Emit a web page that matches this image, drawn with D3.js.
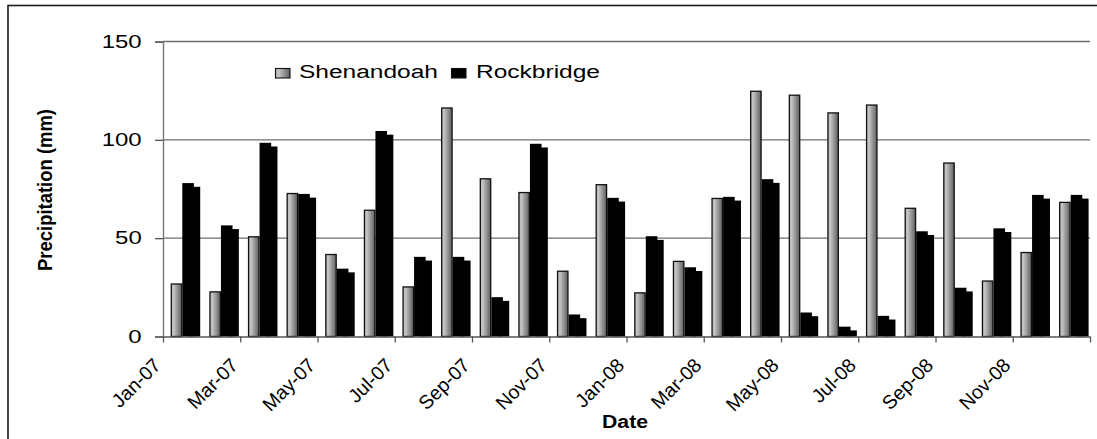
<!DOCTYPE html>
<html>
<head>
<meta charset="utf-8">
<script src="https://cdn.jsdelivr.net/npm/d3@7"></script>
<style>
  html, body { margin: 0; padding: 0; background: #fff; }
  svg { display: block; font-family: "Liberation Sans", Arial, sans-serif; }
</style>
</head>
<body>
<svg id="chart" width="1097" height="439"></svg>
<script>
// Monthly precipitation, Jan 2007 – Dec 2008
const months = ["Jan-07","Feb-07","Mar-07","Apr-07","May-07","Jun-07","Jul-07","Aug-07","Sep-07","Oct-07","Nov-07","Dec-07",
                "Jan-08","Feb-08","Mar-08","Apr-08","May-08","Jun-08","Jul-08","Aug-08","Sep-08","Oct-08","Nov-08","Dec-08"];
const shenandoah = [27, 23, 51, 73, 42, 64.5, 25.5, 116.5, 80.5, 73.5, 33.5, 77.5,
                    22.5, 38.5, 70.5, 125, 123, 114, 118, 65.5, 88.5, 28.5, 43, 68.5];
const rockbridge = [78, 56.5, 98.5, 72.5, 34.5, 104.5, 40.5, 40.5, 20, 98, 11.2, 70.5,
                    51, 35.2, 71, 80, 12.2, 5, 10.5, 53.5, 24.8, 55, 72, 72];
const seriesNames = ["Shenandoah", "Rockbridge"];
const yTicks = [0, 50, 100, 150];
const tickLabels = ["Jan-07","Mar-07","May-07","Jul-07","Sep-07","Nov-07","Jan-08","Mar-08","May-08","Jul-08","Sep-08","Nov-08",""];

const svg = d3.select("#chart");
const plotLeft = 163, plotRight = 1090, plotTop = 41.5, plotBottom = 336.5;
const stretch = 1.37;

// outer chart frame
svg.append("rect")
  .attr("x", 8).attr("y", 5.5).attr("width", 1200).attr("height", 600)
  .attr("fill", "none").attr("stroke", "#1a1a1a").attr("stroke-width", 1.6);

const defs = svg.append("defs");
const grad = defs.append("linearGradient").attr("id", "greyFill")
  .attr("x1", "0%").attr("x2", "100%").attr("y1", "0%").attr("y2", "0%");
grad.append("stop").attr("offset", "0%").attr("stop-color", "#b4b4b4");
grad.append("stop").attr("offset", "22%").attr("stop-color", "#c6c6c6");
grad.append("stop").attr("offset", "100%").attr("stop-color", "#5e5e5e");

const y = d3.scaleLinear().domain([0, 150]).range([plotBottom, plotTop]);
const x = d3.scaleBand().domain(months).range([plotLeft, plotRight]).padding(0);
const xs = d3.scaleBand().domain(seriesNames).range([0, x.bandwidth()])
  .paddingInner(0).paddingOuter(0.665);
const xTick = d3.scaleLinear().domain([0, months.length]).range([plotLeft, plotRight]);

// horizontal gridlines
svg.append("g").selectAll("line")
  .data(yTicks.filter(d => d > 0))
  .join("line")
  .attr("x1", plotLeft).attr("x2", plotRight)
  .attr("y1", d => y(d)).attr("y2", d => y(d))
  .attr("stroke", "#6e6e6e").attr("stroke-width", 1.4);

const bw = xs.bandwidth();
const rows = months.map((m, i) => ({ m, s: shenandoah[i], r: rockbridge[i] }));

// Rockbridge: solid black bars with an offset shadow
const rb = svg.append("g");
rb.selectAll("rect.shadow").data(rows).join("rect")
  .attr("class", "shadow")
  .attr("x", d => x(d.m) + xs("Rockbridge") + 6.3)
  .attr("y", d => y(d.r) + 3.7)
  .attr("width", bw)
  .attr("height", d => Math.max(0, plotBottom - y(d.r) - 3.7))
  .attr("fill", "#000");
rb.selectAll("rect.bar").data(rows).join("rect")
  .attr("class", "bar")
  .attr("x", d => x(d.m) + xs("Rockbridge"))
  .attr("y", d => y(d.r))
  .attr("width", bw)
  .attr("height", d => plotBottom - y(d.r))
  .attr("fill", "#000");

// Shenandoah: grey gradient bars with black outline
svg.append("g").selectAll("rect").data(rows).join("rect")
  .attr("x", d => x(d.m) + xs("Shenandoah") + 0.6)
  .attr("y", d => y(d.s) + 0.6)
  .attr("width", bw - 1.2)
  .attr("height", d => plotBottom - y(d.s) - 0.6)
  .attr("fill", "url(#greyFill)")
  .attr("stroke", "#111").attr("stroke-width", 1.3);

// y axis
const yAxis = svg.append("g").attr("transform", `translate(${plotLeft},0)`)
  .call(d3.axisLeft(y).tickValues(yTicks).tickSize(8).tickPadding(0).tickFormat(d3.format("d")));
yAxis.select(".domain").attr("stroke", "#777").attr("stroke-width", 1.4);
yAxis.selectAll(".tick line").attr("stroke", "#555").attr("stroke-width", 1.3);
yAxis.selectAll(".tick text")
  .attr("x", -21.3 / stretch).attr("dy", "0.32em")
  .attr("transform", `scale(${stretch},1)`)
  .attr("font-size", "17.5px").attr("fill", "#000")
  .attr("font-family", "Liberation Sans, Arial, sans-serif");

// x axis (ticks at month boundaries, every second month)
const xAxis = svg.append("g").attr("transform", `translate(0,${plotBottom})`)
  .call(d3.axisBottom(xTick)
    .tickValues(d3.range(0, months.length + 1, 2))
    .tickSize(6).tickSizeOuter(0)
    .tickFormat((d, i) => tickLabels[i]));
xAxis.select(".domain").attr("stroke", "#555").attr("stroke-width", 1.4);
xAxis.selectAll(".tick line").attr("stroke", "#555").attr("stroke-width", 1.3);
xAxis.selectAll(".tick text")
  .attr("x", 0).attr("y", 0).attr("dy", 0)
  .attr("text-anchor", "end")
  .attr("transform", "translate(-1.5,30) rotate(-45)")
  .attr("font-size", "19.5px").attr("fill", "#000")
  .attr("font-family", "Liberation Sans, Arial, sans-serif");

// axis titles
svg.append("text")
  .attr("x", 625).attr("y", 428)
  .attr("text-anchor", "middle")
  .attr("font-size", "18px").attr("font-weight", "bold")
  .attr("textLength", 46).attr("lengthAdjust", "spacingAndGlyphs")
  .text("Date");

svg.append("g").attr("transform", "translate(52,190) rotate(-90) scale(1,1.25)")
  .append("text")
  .attr("text-anchor", "middle")
  .attr("font-size", "16px").attr("font-weight", "bold")
  .attr("textLength", 162).attr("lengthAdjust", "spacingAndGlyphs")
  .text("Precipitation (mm)");

// legend
const legend = svg.append("g");
const legendItems = [
  { name: "Shenandoah", fill: "url(#greyFill)", sx: 275, tx: 299, w: 139 },
  { name: "Rockbridge", fill: "#000", sx: 451, tx: 476, w: 124 }
];
legendItems.forEach(it => {
  legend.append("rect")
    .attr("x", it.sx + 0.5).attr("y", 68.5).attr("width", 14.5).attr("height", 9.5)
    .attr("fill", it.fill).attr("stroke", "#111").attr("stroke-width", 1.1);
  legend.append("text")
    .attr("x", it.tx).attr("y", 78.3)
    .attr("font-size", "18px")
    .attr("textLength", it.w).attr("lengthAdjust", "spacingAndGlyphs")
    .text(it.name);
});
</script>
</body>
</html>
